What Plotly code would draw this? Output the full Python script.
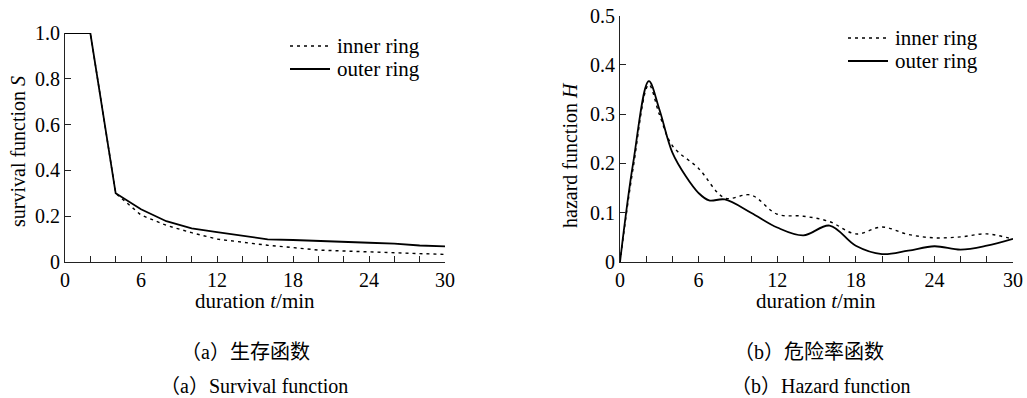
import plotly.graph_objects as go

# ---------------- data ----------------
surv_t = [0, 2, 4, 6, 8, 10, 12, 14, 16, 18, 20, 22, 24, 26, 28, 30]
surv_inner = [1.0, 1.0, 0.30, 0.205, 0.16, 0.128, 0.10, 0.085, 0.073, 0.063, 0.052, 0.048, 0.044, 0.04, 0.036, 0.033]
surv_outer = [1.0, 1.0, 0.30, 0.23, 0.178, 0.147, 0.13, 0.115, 0.099, 0.096, 0.093, 0.09, 0.084, 0.08, 0.072, 0.068]

haz_t_inner = [0, 1, 2.2, 3, 4, 6, 8, 10, 12, 14, 16, 18, 20, 22, 24, 26, 28, 30]
haz_inner = [0.0, 0.19, 0.36, 0.30, 0.236, 0.19, 0.13, 0.136, 0.097, 0.093, 0.082, 0.057, 0.071, 0.056, 0.049, 0.051, 0.057, 0.046]
haz_t_outer = [0, 1, 2.2, 3, 4, 5, 6, 6.8, 8, 10, 12, 14, 16, 18, 20, 22, 24, 26, 28, 30]
haz_outer = [0.0, 0.2, 0.367, 0.31, 0.222, 0.175, 0.14, 0.125, 0.127, 0.10, 0.07, 0.054, 0.074, 0.033, 0.016, 0.023, 0.032, 0.025, 0.033, 0.047]

x_tickvals = [0, 6, 12, 18, 24, 30]
x_ticktext = ["0", "6", "12", "18", "24", "30"]
s_tickvals = [0, 0.2, 0.4, 0.6, 0.8, 1.0]
s_ticktext = ["0", "0.2", "0.4", "0.6", "0.8", "1.0"]
h_tickvals = [0, 0.1, 0.2, 0.3, 0.4, 0.5]
h_ticktext = ["0", "0.1", "0.2", "0.3", "0.4", "0.5"]

series_names = ["inner ring", "outer ring"]

# ---------------- styling ----------------
W, H = 1027, 398
SERIF = "Liberation Serif, Times New Roman, serif"
CJK = "Liberation Serif, Noto Sans CJK SC, serif"
AX = "#222"
DOT = "3px,4px"
W_IN, W_OUT = 1.4, 1.8

fig = go.Figure()

fig.add_trace(go.Scatter(x=surv_t, y=surv_inner, mode="lines", name=series_names[0],
                         line=dict(color="black", width=W_IN, dash=DOT),
                         xaxis="x", yaxis="y", cliponaxis=False, showlegend=False))
fig.add_trace(go.Scatter(x=surv_t, y=surv_outer, mode="lines", name=series_names[1],
                         line=dict(color="black", width=W_OUT),
                         xaxis="x", yaxis="y", cliponaxis=False, showlegend=False))
fig.add_trace(go.Scatter(x=haz_t_inner, y=haz_inner, mode="lines", name=series_names[0],
                         line=dict(color="black", width=W_IN, dash=DOT, shape="spline", smoothing=1.0),
                         xaxis="x2", yaxis="y2", cliponaxis=False, showlegend=False))
fig.add_trace(go.Scatter(x=haz_t_outer, y=haz_outer, mode="lines", name=series_names[1],
                         line=dict(color="black", width=W_OUT, shape="spline", smoothing=1.0),
                         xaxis="x2", yaxis="y2", cliponaxis=False, showlegend=False))

TF = dict(family=SERIF, size=20, color="black")

def xax(domain, anchor):
    return dict(domain=domain, anchor=anchor, range=[0, 30], tickvals=x_tickvals, ticktext=x_ticktext,
                ticks="inside", ticklen=6, tickcolor=AX, tickwidth=1,
                minor=dict(dtick=2, tick0=0, ticks="inside", ticklen=6, tickcolor=AX, tickwidth=1),
                showline=True, linecolor=AX, linewidth=1.2, showgrid=False, zeroline=False,
                automargin=False, tickfont=TF, fixedrange=True)

def yax(domain, anchor, vals, text, rng):
    return dict(domain=domain, anchor=anchor, range=rng, tickvals=vals, ticktext=text,
                ticks="inside", ticklen=6, tickcolor=AX, tickwidth=1,
                showline=True, linecolor=AX, linewidth=1.2, showgrid=False, zeroline=False,
                automargin=False, tickfont=TF, fixedrange=True)

y0 = (H - 262) / H
fig.update_layout(
    template="none",
    width=W, height=H, margin=dict(l=0, r=0, t=0, b=0, pad=0, autoexpand=False),
    paper_bgcolor="white", plot_bgcolor="white", showlegend=False,
    xaxis=xax([65 / W, 445 / W], "y"),
    yaxis=yax([y0, (H - 33) / H], "x", s_tickvals, s_ticktext, [0, 1.0]),
    xaxis2=xax([620 / W, 1013 / W], "y2"),
    yaxis2=yax([y0, (H - 15.7) / H], "x2", h_tickvals, h_ticktext, [0, 0.5]),
)

ann = []
def A(text, x, y, size=20, angle=0, family=SERIF, xanchor="center"):
    ann.append(dict(text=text, x=x / W, y=1 - y / H, xref="paper", yref="paper",
                    xanchor=xanchor, yanchor="middle", showarrow=False, textangle=angle,
                    font=dict(family=family, size=size, color="black")))

A("survival function <i>S</i>", 18, 152, angle=-90, size=20)
A("hazard function <i>H</i>", 570, 155, angle=-90, size=20)
A("duration <i>t</i>/min", 255, 301, size=21)
A("duration <i>t</i>/min", 816, 301, size=21)
A("（a）生存函数", 245, 352, size=20, family=CJK)
A("（a）Survival function", 254, 386, size=20, family=CJK)
A("（b）危险率函数", 809, 352, size=20, family=CJK)
A("（b）Hazard function", 820, 386, size=20, family=CJK)

# legends (drawn as key samples + labels)
shapes = []
def legend(x0, y_first, gap):
    for i, (name, dash, w) in enumerate(zip(series_names, [DOT, "solid"], [W_IN, W_OUT])):
        yy = 1 - (y_first + i * gap) / H
        shapes.append(dict(type="line", xref="paper", yref="paper", x0=x0 / W, x1=(x0 + 40) / W,
                           y0=yy, y1=yy, line=dict(color="black", width=w, dash=dash)))
        A(name, x0 + 45, y_first + i * gap, size=21, xanchor="left")

legend(290, 46, 23)
legend(848, 38, 23)

fig.update_layout(annotations=ann, shapes=shapes)

fig.write_html("out.html")
